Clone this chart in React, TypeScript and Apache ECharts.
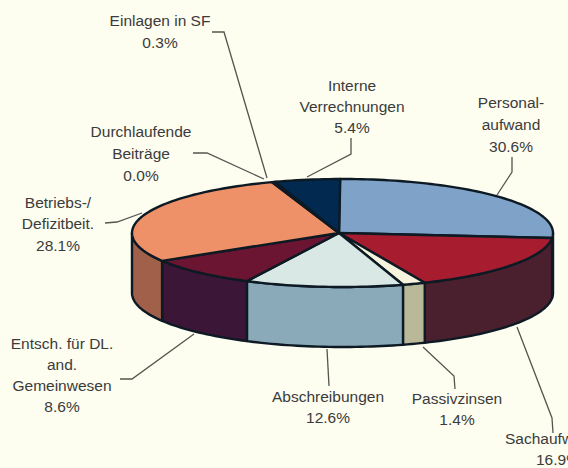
import React, { useEffect, useRef } from "react";
import * as echarts from "echarts";

// Categories in clockwise drawing order, starting from the top of the pie.
const categories = [
  ["Personal-", "aufwand"],
  ["Sachaufwand"],
  ["Passivzinsen"],
  ["Abschreibungen"],
  ["Entsch. für DL.", "and.", "Gemeinwesen"],
  ["Betriebs-/", "Defizitbeit."],
  ["Durchlaufende", "Beiträge"],
  ["Einlagen in SF"],
  ["Interne", "Verrechnungen"],
];
// Percentages as printed on the chart.
const printedPercent = [30.6, 16.9, 1.4, 12.6, 8.6, 28.1, 0.0, 0.3, 5.4];
// Sweep of each slice as drawn in the picture, in degrees (the printed values do
// not sum to 100 and the original's 3D view distorts the angles).
const drawnSweep = [96, 61.7, 6.3, 43.7, 32, 101.4, 0, 1, 18];

const topColors = ["#7ea2c8", "#a81c30", "#f6f4dc", "#d9e8e4", "#6b1532", "#ee9068", "#ee9068", "#0a2a50", "#02294f"];
const sideColors = ["#3e3040", "#4a1f2e", "#b9b999", "#8aaaba", "#3b1636", "#a0604a", "#a0604a", "#0a2a50", "#02294f"];

const START = -0.7;
const CX = 342.5, CY = 233, RX = 210.5, RY = 54, DEPTH = 60;
const APEX_X = 339, APEX_Y = 233;
const OUTLINE = "#0d1a24";
const BG = "#fdfdf0";
const INK = "#3b3b3b";
const LEAD = "#55554f";

// Text anchors [x, y of first line], line step, and leader polyline per category.
const labelLayout = [
  { x: 511, y: 102, step: 22, lead: [[512, 157], [512, 172], [497, 195]] },
  { x: 505, y: 438, step: 21, align: "left", lead: [[517, 327], [552, 418], [553, 433]] },
  { x: 457, y: 398, step: 21, lead: [[423, 347], [454, 376], [455, 389]] },
  { x: 328, y: 396, step: 21, lead: [[327, 349], [329, 386]] },
  { x: 62, y: 343, step: 21.3, lead: [[120, 379], [132, 379], [194, 334]] },
  { x: 58, y: 202, step: 21.5, lead: [[105, 223], [117, 222], [142, 213]] },
  { x: 141, y: 131, step: 22, lead: [[193, 153], [207, 153], [264, 179]] },
  { x: 160, y: 20, step: 22, lead: [[212, 32], [224, 32], [267, 178]] },
  { x: 352, y: 85, step: 21, lead: [[351, 138], [351, 154], [307, 177]] },
];

const rim = (deg: number, dy = 0) => {
  const t = (deg * Math.PI) / 180;
  return [CX + RX * Math.sin(t), CY - RY * Math.cos(t) + dy];
};
const arc = (a: number, b: number, dy = 0) => {
  const out: number[][] = [];
  const n = Math.max(2, Math.ceil(Math.abs(b - a) / 1.5));
  for (let i = 0; i <= n; i++) out.push(rim(a + ((b - a) * i) / n, dy));
  return out;
};

const sliceRange = (i: number) => {
  let a = START;
  for (let k = 0; k < i; k++) a += drawnSweep[k];
  return [a, a + drawnSweep[i]];
};

export default function App() {
  const ref = useRef<HTMLDivElement>(null);
  useEffect(() => {
    document.body.style.margin = "0";
    document.body.style.background = BG;
    const chart = echarts.init(ref.current!, undefined, { renderer: "svg" });
    const graphics: any[] = [];
    categories.forEach((lines, i) => {
      const L: any = labelLayout[i];
      graphics.push({
        type: "polyline",
        z: 1,
        shape: { points: L.lead },
        style: { stroke: LEAD, lineWidth: 1.3, fill: "none" },
      });
      const texts = [...lines, printedPercent[i].toFixed(1) + "%"];
      texts.forEach((s, j) => {
        const isClippedPct = L.align === "left" && j > 0;
        graphics.push({
          type: "text",
          z: 5,
          x: isClippedPct ? 536 : L.x,
          y: L.y + j * L.step,
          style: {
            text: s,
            fill: INK,
            font: '15.5px "Liberation Sans", Arial, sans-serif',
            align: L.align || "center",
            verticalAlign: "middle",
          },
        });
      });
    });
    chart.setOption({
      animation: false,
      backgroundColor: BG,
      graphic: { elements: graphics },
      series: [
        {
          type: "custom",
          coordinateSystem: "none",
          silent: true,
          z: 3,
          data: printedPercent.map((_, i) => i),
          renderItem: (_: any, api: any) => {
            const i = api.value(0);
            const [a0, a1] = sliceRange(i);
            const b0 = Math.max(a0, 90), b1 = Math.min(a1, 270);
            if (b1 <= b0) return { type: "group", children: [] };
            const top = arc(b0, b1);
            const bottom = arc(b1, b0, DEPTH);
            return {
              type: "polygon",
              shape: { points: [...top, ...bottom] },
              style: { fill: sideColors[i], stroke: OUTLINE, lineWidth: 2.4, lineJoin: "round" },
            };
          },
        },
        {
          type: "custom",
          coordinateSystem: "none",
          silent: true,
          z: 4,
          data: printedPercent.map((_, i) => i),
          renderItem: (_: any, api: any) => {
            const i = api.value(0);
            const [a0, a1] = sliceRange(i);
            if (a1 <= a0) return { type: "group", children: [] };
            return {
              type: "polygon",
              shape: { points: [[APEX_X, APEX_Y], ...arc(a0, a1)] },
              style: { fill: topColors[i], stroke: OUTLINE, lineWidth: 2.4, lineJoin: "round" },
            };
          },
        },
      ],
    });
    return () => chart.dispose();
  }, []);
  return <div ref={ref} style={{ position: "fixed", left: 0, top: 0, width: 568, height: 468 }} />;
}
